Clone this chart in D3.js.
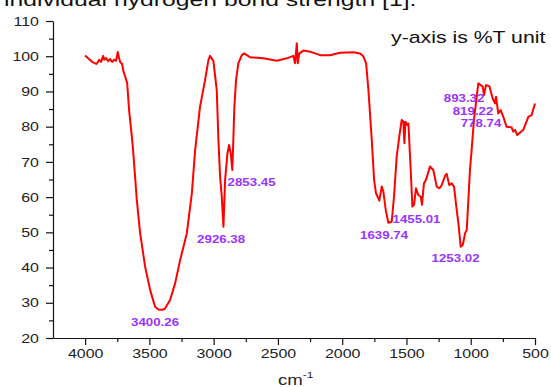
<!DOCTYPE html>
<html>
<head>
<meta charset="utf-8">
<script src="https://cdn.jsdelivr.net/npm/d3@7"></script>
<style>
  body { margin: 0; background: #fff; }
  svg { display: block; font-family: "Liberation Sans", Arial, sans-serif; }
</style>
</head>
<body>
<svg id="chart" width="551" height="387"></svg>
<script>
// FTIR spectrum, %T against wavenumber

var wavenumbers = [4000, 3977, 3946, 3914, 3899, 3891, 3876, 3860, 3852, 3837, 3821, 3806, 3790, 3774, 3759,
  3746, 3736, 3728, 3712, 3704, 3673, 3658, 3634, 3627, 3598, 3572, 3533, 3494, 3456, 3430, 3400, 3380,
  3339, 3300, 3261, 3209, 3170, 3144, 3106, 3067, 3041, 3028, 3002, 2976, 2963, 2950, 2937, 2924, 2911,
  2893, 2880, 2867, 2855, 2847, 2839, 2826, 2808, 2781, 2763, 2742, 2717, 2613, 2509, 2431, 2380, 2367,
  2353, 2346, 2333, 2302, 2250, 2172, 2094, 2017, 1913, 1861, 1835, 1814, 1796, 1770, 1752, 1737, 1711,
  1692, 1680, 1661, 1641, 1615, 1597, 1576, 1556, 1537, 1524, 1516, 1508, 1493, 1485, 1467, 1454, 1441,
  1426, 1408, 1389, 1379, 1364, 1348, 1317, 1291, 1265, 1244, 1226, 1200, 1187, 1167, 1148, 1130, 1109,
  1096, 1078, 1062, 1044, 1031, 1006, 993, 975, 941, 923, 907, 897, 881, 855, 829, 811, 803, 786, 767,
  747, 721, 682, 669, 656, 638, 591, 552, 526, 500];

var transmittance = [100.2, 99.4, 98.4, 97.8, 98.4, 99.0, 98.4, 100.1, 99.0, 99.5, 98.6, 99.2, 98.4, 99.0, 98.7,
  101.2, 99.5, 98.4, 97.8, 96.0, 92.4, 84.7, 76.2, 73.4, 59.2, 49.7, 40.2, 33.6, 28.9, 28.1, 28.0, 28.3,
  30.8, 35.5, 42.1, 49.7, 61.0, 73.4, 85.7, 93.2, 98.9, 100.1, 98.6, 90.4, 76.2, 65.8, 60.1, 51.6, 64.9,
  72.4, 74.8, 72.4, 67.7, 76.2, 85.7, 93.2, 98.0, 100.3, 100.8, 100.3, 99.7, 99.4, 98.7, 99.4, 100.1, 98.0,
  103.7, 98.0, 100.8, 101.6, 101.3, 100.3, 100.3, 101.0, 101.1, 100.8, 99.9, 98.0, 90.4, 76.2, 64.9, 61.1, 59.0,
  63.0, 61.6, 56.3, 52.7, 53.0, 60.1, 71.5, 77.2, 81.9, 81.4, 75.3, 81.4, 80.5, 80.9, 67.7, 57.3, 57.8,
  62.5, 60.6, 60.1, 57.8, 63.9, 64.9, 68.7, 67.7, 63.0, 62.5, 63.4, 66.0, 66.6, 63.4, 63.9, 63.0, 56.3,
  52.6, 45.9, 46.4, 49.7, 50.7, 67.7, 73.4, 81.9, 92.3, 91.8, 91.4, 89.0, 91.8, 91.5, 88.0, 86.6, 88.5, 83.8, 84.7,
  82.8, 80.0, 79.8, 78.6, 79.1, 77.6, 79.1, 82.8, 83.3, 86.6];

// peak annotations: text and where its centre sits, in data units
var peakLabels = ["3400.26", "2926.38", "2853.45", "1639.74", "1455.01", "1253.02", "893.32", "819.22", "778.74"];
var peakLabelX = [3456, 2942, 2705, 1674, 1422, 1118, 1052, 982, 920];
var peakLabelY = [24.5, 48.1, 64.3, 49.0, 53.8, 42.7, 88.1, 84.2, 80.9];

var xMajorTicks = [4000, 3500, 3000, 2500, 2000, 1500, 1000, 500];
var xMinorTicks = [3750, 3250, 2750, 2250, 1750, 1250, 750];
var yMajorTicks = [20, 30, 40, 50, 60, 70, 80, 90, 100, 110];
var yMinorTicks = [25, 35, 45, 55, 65, 75, 85, 95, 105];

var titleText = "individual hydrogen bond strength [1].";
var noteText = "y-axis is %T unit";

// the source picture is stretched sideways, so text is too
var STRETCH = "scale(1.33,1)";

var svg = d3.select("#chart");

var x = d3.scaleLinear().domain([4250, 500]).range([53, 535]);
var y = d3.scaleLinear().domain([20, 110]).range([338, 21]);

///////////////////////////////////////////////////////////////////////////////
// Axes

var xAxis = svg.append("g")
  .attr("transform", "translate(0," + y(20) + ")")
  .call(d3.axisBottom(x).tickValues(xMajorTicks).tickSize(7).tickSizeOuter(0).tickFormat(d3.format("d")));

svg.append("g")
  .attr("transform", "translate(0," + y(20) + ")")
  .call(d3.axisBottom(x).tickValues(xMinorTicks).tickSize(4).tickFormat(""))
  .call(function (g) { g.select(".domain").remove(); });

var yAxis = svg.append("g")
  .attr("transform", "translate(" + x(4250) + ",0)")
  .call(d3.axisLeft(y).tickValues(yMajorTicks).tickSize(7).tickSizeOuter(0));

svg.append("g")
  .attr("transform", "translate(" + x(4250) + ",0)")
  .call(d3.axisLeft(y).tickValues(yMinorTicks).tickSize(4).tickFormat(""))
  .call(function (g) { g.select(".domain").remove(); });

svg.selectAll(".domain, .tick line").attr("stroke", "#111").attr("stroke-width", 1.2);

xAxis.selectAll(".tick text")
  .attr("y", 0).attr("dy", 0)
  .attr("transform", "translate(0,20) " + STRETCH)
  .attr("font-size", 12).attr("fill", "#222").attr("font-family", null);

yAxis.selectAll(".tick text")
  .attr("x", 0).attr("dy", "0.35em")
  .attr("transform", "translate(-14,0) " + STRETCH)
  .attr("font-size", 12).attr("fill", "#222").attr("font-family", null);

// x label, cm^-1
var xLabel = svg.append("text")
  .attr("transform", "translate(278,385) " + STRETCH)
  .attr("font-size", 14).attr("fill", "#222");
xLabel.append("tspan").text("cm");
xLabel.append("tspan").attr("dy", -7).attr("font-size", 9).text("-1");

///////////////////////////////////////////////////////////////////////////////
// Spectrum

var points = wavenumbers.map(function (w, i) { return [w, transmittance[i]]; });

svg.append("path")
  .datum(points)
  .attr("fill", "none")
  .attr("stroke", "#ff0000")
  .attr("stroke-width", 2)
  .attr("stroke-linejoin", "round")
  .attr("d", d3.line()
    .x(function (d) { return x(d[0]); })
    .y(function (d) { return y(d[1]); }));

// Peak labels
svg.selectAll("text.peak")
  .data(peakLabels)
  .enter().append("text")
  .attr("class", "peak")
  .attr("transform", function (d, i) {
    return "translate(" + x(peakLabelX[i]) + "," + y(peakLabelY[i]) + ") " + STRETCH;
  })
  .attr("dy", "0.36em")
  .attr("text-anchor", "middle")
  .attr("font-size", 10)
  .attr("font-weight", "bold")
  .attr("fill", "#9933ff")
  .text(function (d) { return d; });

///////////////////////////////////////////////////////////////////////////////
// Text around the plot

svg.append("text")
  .attr("transform", "translate(391,43) " + STRETCH)
  .attr("font-size", 16).attr("fill", "#111")
  .text(noteText);

// page title above the chart, cut by the top edge as in the source
svg.append("text")
  .attr("transform", "translate(4,6) " + STRETCH)
  .attr("font-size", 18.6).attr("fill", "#111")
  .text(titleText);
</script>
</body>
</html>
